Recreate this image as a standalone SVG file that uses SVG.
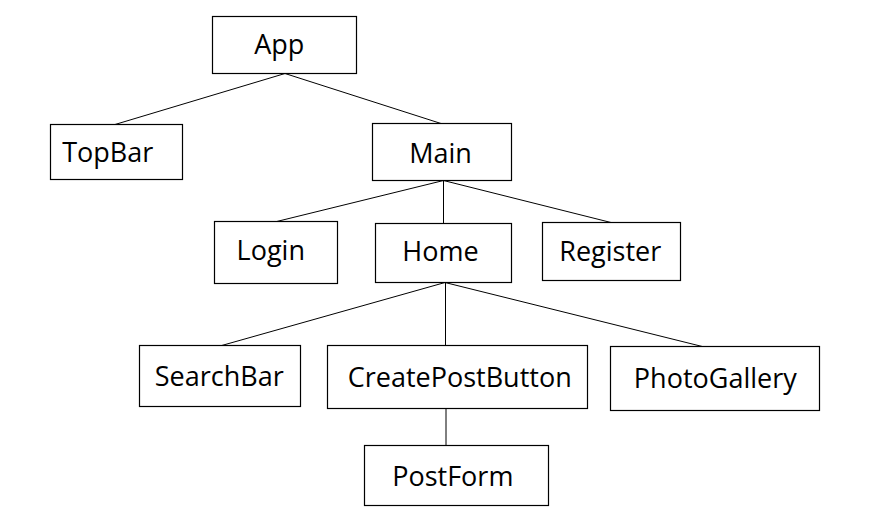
<svg xmlns="http://www.w3.org/2000/svg" width="888" height="521" viewBox="0 0 888 521">
<style>
.box{fill:#fff;stroke:#000;stroke-width:1.2}
.lbl{font-family:"Open Sans","Noto Sans","DejaVu Sans",sans-serif;font-size:27px;fill:#000;text-anchor:middle}
.edge{stroke:#000;stroke-width:1;fill:none}
</style>
<rect width="888" height="521" fill="#fff"/>
<g id="connectors">
<line class="edge" x1="285" y1="73.5" x2="115" y2="124.5"/>
<line class="edge" x1="285" y1="73.5" x2="441" y2="123.5"/>
<line class="edge" x1="443.5" y1="180.5" x2="276.7" y2="221.5"/>
<line class="edge" x1="443.5" y1="180.5" x2="443.5" y2="223.5"/>
<line class="edge" x1="443.5" y1="180.5" x2="611" y2="222.5"/>
<line class="edge" x1="445" y1="282.5" x2="221.7" y2="345.5"/>
<line class="edge" x1="445.5" y1="282.5" x2="445.5" y2="345.5"/>
<line class="edge" x1="445" y1="282.5" x2="702.3" y2="346.5"/>
<line class="edge" x1="446" y1="408.5" x2="446" y2="445.5"/>
</g>
<g id="app"><rect class="box" x="212.5" y="16.5" width="144" height="57"/><text class="lbl" x="279.2" y="54">App</text></g>
<g id="topbar"><rect class="box" x="50.5" y="124.5" width="132" height="55"/><text class="lbl" x="107.7" y="162.3">TopBar</text></g>
<g id="main"><rect class="box" x="372.5" y="123.5" width="139" height="57"/><text class="lbl" x="440.5" y="163.3">Main</text></g>
<g id="login"><rect class="box" x="214.5" y="221.5" width="123" height="62"/><text class="lbl" x="270.8" y="260">Login</text></g>
<g id="home"><rect class="box" x="375.5" y="223.5" width="136" height="59"/><text class="lbl" x="440.5" y="261">Home</text></g>
<g id="register"><rect class="box" x="542.5" y="222.5" width="138" height="58"/><text class="lbl" x="610.3" y="261">Register</text></g>
<g id="searchbar"><rect class="box" x="139.5" y="345.5" width="161" height="61"/><text class="lbl" x="219.2" y="385.7">SearchBar</text></g>
<g id="createpostbutton"><rect class="box" x="327.5" y="345.5" width="260" height="63"/><text class="lbl" x="459.7" y="386.7">CreatePostButton</text></g>
<g id="photogallery"><rect class="box" x="610.5" y="346.5" width="209" height="64"/><text class="lbl" x="715.3" y="387.7">PhotoGallery</text></g>
<g id="postform"><rect class="box" x="364.5" y="445.5" width="184" height="60"/><text class="lbl" x="452.8" y="485.7">PostForm</text></g>
</svg>
